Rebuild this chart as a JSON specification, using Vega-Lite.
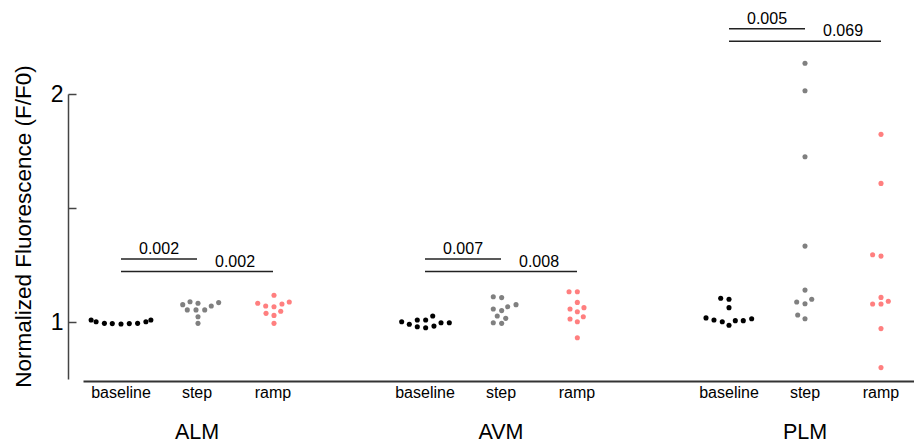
{
  "$schema": "https://vega.github.io/schema/vega-lite/v6.json",
  "autosize": "none",
  "width": 831,
  "height": 285,
  "padding": {"left": 83, "top": 94, "right": 0, "bottom": 68},
  "config": {"view": {"stroke": null}, "font": "Liberation Sans"},
  "datasets": {
    "points": [
      {"grp": "ALM", "cond": "baseline", "sw": -3.6, "f": 1.009},
      {"grp": "ALM", "cond": "baseline", "sw": -3.0, "f": 1.001},
      {"grp": "ALM", "cond": "baseline", "sw": -2.0, "f": 0.994},
      {"grp": "ALM", "cond": "baseline", "sw": -1.05, "f": 0.993},
      {"grp": "ALM", "cond": "baseline", "sw": 0.0, "f": 0.991},
      {"grp": "ALM", "cond": "baseline", "sw": 1.0, "f": 0.993},
      {"grp": "ALM", "cond": "baseline", "sw": 2.0, "f": 0.994},
      {"grp": "ALM", "cond": "baseline", "sw": 3.0, "f": 1.001},
      {"grp": "ALM", "cond": "baseline", "sw": 3.6, "f": 1.009},
      {"grp": "ALM", "cond": "step", "sw": -1.72, "f": 1.076},
      {"grp": "ALM", "cond": "step", "sw": -0.84, "f": 1.089},
      {"grp": "ALM", "cond": "step", "sw": 0.12, "f": 1.082},
      {"grp": "ALM", "cond": "step", "sw": -1.17, "f": 1.053},
      {"grp": "ALM", "cond": "step", "sw": -0.12, "f": 1.053},
      {"grp": "ALM", "cond": "step", "sw": 0.93, "f": 1.053},
      {"grp": "ALM", "cond": "step", "sw": 1.72, "f": 1.070},
      {"grp": "ALM", "cond": "step", "sw": 2.61, "f": 1.085},
      {"grp": "ALM", "cond": "step", "sw": 0.12, "f": 1.023},
      {"grp": "ALM", "cond": "step", "sw": 0.12, "f": 0.994},
      {"grp": "ALM", "cond": "ramp", "sw": 0.12, "f": 1.117},
      {"grp": "ALM", "cond": "ramp", "sw": -1.84, "f": 1.082},
      {"grp": "ALM", "cond": "ramp", "sw": -0.88, "f": 1.070},
      {"grp": "ALM", "cond": "ramp", "sw": 0.12, "f": 1.067},
      {"grp": "ALM", "cond": "ramp", "sw": 1.08, "f": 1.079},
      {"grp": "ALM", "cond": "ramp", "sw": 1.96, "f": 1.088},
      {"grp": "ALM", "cond": "ramp", "sw": -0.84, "f": 1.038},
      {"grp": "ALM", "cond": "ramp", "sw": 0.12, "f": 1.029},
      {"grp": "ALM", "cond": "ramp", "sw": 0.93, "f": 1.047},
      {"grp": "ALM", "cond": "ramp", "sw": 0.12, "f": 0.994},
      {"grp": "AVM", "cond": "baseline", "sw": -2.81, "f": 1.001},
      {"grp": "AVM", "cond": "baseline", "sw": -1.89, "f": 0.990},
      {"grp": "AVM", "cond": "baseline", "sw": -0.93, "f": 1.009},
      {"grp": "AVM", "cond": "baseline", "sw": -0.93, "f": 0.979},
      {"grp": "AVM", "cond": "baseline", "sw": 0.08, "f": 1.009},
      {"grp": "AVM", "cond": "baseline", "sw": 0.08, "f": 0.975},
      {"grp": "AVM", "cond": "baseline", "sw": 0.93, "f": 1.026},
      {"grp": "AVM", "cond": "baseline", "sw": 1.08, "f": 0.982},
      {"grp": "AVM", "cond": "baseline", "sw": 1.93, "f": 0.997},
      {"grp": "AVM", "cond": "baseline", "sw": 2.93, "f": 0.997},
      {"grp": "AVM", "cond": "step", "sw": -0.93, "f": 1.111},
      {"grp": "AVM", "cond": "step", "sw": 0.08, "f": 1.107},
      {"grp": "AVM", "cond": "step", "sw": -0.93, "f": 1.057},
      {"grp": "AVM", "cond": "step", "sw": 0.08, "f": 1.050},
      {"grp": "AVM", "cond": "step", "sw": 0.81, "f": 1.067},
      {"grp": "AVM", "cond": "step", "sw": 1.81, "f": 1.076},
      {"grp": "AVM", "cond": "step", "sw": -0.45, "f": 1.026},
      {"grp": "AVM", "cond": "step", "sw": 0.57, "f": 1.016},
      {"grp": "AVM", "cond": "step", "sw": -0.93, "f": 0.997},
      {"grp": "AVM", "cond": "step", "sw": 0.08, "f": 0.994},
      {"grp": "AVM", "cond": "ramp", "sw": -0.96, "f": 1.133},
      {"grp": "AVM", "cond": "ramp", "sw": 0.04, "f": 1.133},
      {"grp": "AVM", "cond": "ramp", "sw": 0.04, "f": 1.086},
      {"grp": "AVM", "cond": "ramp", "sw": -0.84, "f": 1.057},
      {"grp": "AVM", "cond": "ramp", "sw": 0.04, "f": 1.045},
      {"grp": "AVM", "cond": "ramp", "sw": 0.84, "f": 1.063},
      {"grp": "AVM", "cond": "ramp", "sw": -0.84, "f": 1.013},
      {"grp": "AVM", "cond": "ramp", "sw": 0.04, "f": 1.001},
      {"grp": "AVM", "cond": "ramp", "sw": 0.76, "f": 1.023},
      {"grp": "AVM", "cond": "ramp", "sw": 0.04, "f": 0.931},
      {"grp": "PLM", "cond": "baseline", "sw": -1.0, "f": 1.104},
      {"grp": "PLM", "cond": "baseline", "sw": 0.0, "f": 1.100},
      {"grp": "PLM", "cond": "baseline", "sw": 0.0, "f": 1.063},
      {"grp": "PLM", "cond": "baseline", "sw": -2.77, "f": 1.018},
      {"grp": "PLM", "cond": "baseline", "sw": -1.81, "f": 1.009},
      {"grp": "PLM", "cond": "baseline", "sw": -0.81, "f": 1.001},
      {"grp": "PLM", "cond": "baseline", "sw": 0.0, "f": 0.986},
      {"grp": "PLM", "cond": "baseline", "sw": 0.76, "f": 1.006},
      {"grp": "PLM", "cond": "baseline", "sw": 1.72, "f": 1.006},
      {"grp": "PLM", "cond": "baseline", "sw": 2.73, "f": 1.014},
      {"grp": "PLM", "cond": "step", "sw": 0.0, "f": 2.135},
      {"grp": "PLM", "cond": "step", "sw": 0.0, "f": 2.014},
      {"grp": "PLM", "cond": "step", "sw": 0.0, "f": 1.725},
      {"grp": "PLM", "cond": "step", "sw": 0.0, "f": 1.333},
      {"grp": "PLM", "cond": "step", "sw": 0.0, "f": 1.140},
      {"grp": "PLM", "cond": "step", "sw": -1.0, "f": 1.088},
      {"grp": "PLM", "cond": "step", "sw": 0.0, "f": 1.080},
      {"grp": "PLM", "cond": "step", "sw": 0.81, "f": 1.100},
      {"grp": "PLM", "cond": "step", "sw": -0.88, "f": 1.031},
      {"grp": "PLM", "cond": "step", "sw": 0.0, "f": 1.014},
      {"grp": "PLM", "cond": "ramp", "sw": 0.0, "f": 1.823},
      {"grp": "PLM", "cond": "ramp", "sw": 0.0, "f": 1.608},
      {"grp": "PLM", "cond": "ramp", "sw": -1.01, "f": 1.295},
      {"grp": "PLM", "cond": "ramp", "sw": 0.0, "f": 1.289},
      {"grp": "PLM", "cond": "ramp", "sw": 0.0, "f": 1.108},
      {"grp": "PLM", "cond": "ramp", "sw": -1.01, "f": 1.079},
      {"grp": "PLM", "cond": "ramp", "sw": 0.0, "f": 1.079},
      {"grp": "PLM", "cond": "ramp", "sw": 0.88, "f": 1.091},
      {"grp": "PLM", "cond": "ramp", "sw": 0.0, "f": 0.971},
      {"grp": "PLM", "cond": "ramp", "sw": 0.0, "f": 0.800}
    ],
    "brackets": [
      {"from": "ALM|baseline", "to": "ALM|step", "y": 1.276, "p": "0.002"},
      {"from": "ALM|baseline", "to": "ALM|ramp", "y": 1.221, "p": "0.002"},
      {"from": "AVM|baseline", "to": "AVM|step", "y": 1.276, "p": "0.007"},
      {"from": "AVM|baseline", "to": "AVM|ramp", "y": 1.221, "p": "0.008"},
      {"from": "PLM|baseline", "to": "PLM|step", "y": 2.286, "p": "0.005"},
      {"from": "PLM|baseline", "to": "PLM|ramp", "y": 2.231, "p": "0.069"}
    ]
  },
  "layer": [
    {
      "data": {"name": "points"},
      "transform": [{"calculate": "datum.grp + '|' + datum.cond", "as": "key"}],
      "mark": {"type": "circle", "size": 26, "opacity": 1},
      "encoding": {
        "x": {
          "field": "key", "type": "nominal",
          "scale": {"type": "band", "domain": ["ALM|baseline", "ALM|step", "ALM|ramp", "g1", "AVM|baseline", "AVM|step", "AVM|ramp", "g2", "PLM|baseline", "PLM|step", "PLM|ramp"], "range": [0, 836], "paddingInner": 0, "paddingOuter": 0},
          "axis": {"orient": "bottom", "offset": 2, "domainWidth": 2, "domainColor": "#333333", "ticks": false, "labelFontSize": 16, "labelPadding": 3, "labelAngle": 0, "labelColor": "#000000", "labelOverlap": false, "labelBound": false, "title": null, "grid": false, "labelExpr": "indexof(datum.value, '|') > 0 ? split(datum.value, '|')[1] : ''"}
        },
        "xOffset": {"field": "sw", "type": "quantitative", "scale": {"domain": [-4, 4], "range": [4.8, 71.2]}},
        "y": {
          "field": "f", "type": "quantitative",
          "scale": {"domain": [0.75, 2], "nice": false, "zero": false},
          "axis": {"values": [1, 1.5, 2], "format": ".1~f", "labelExpr": "datum.value == 1.5 ? '' : datum.label", "offset": 15, "tickSize": -8, "domainColor": "#444444", "tickColor": "#444444", "domainWidth": 1.5, "tickWidth": 1.5, "labelFontSize": 23, "labelColor": "#000000", "labelPadding": 13, "grid": false, "title": "Normalized Fluorescence (F/F0)", "titleFontSize": 22.5, "titleFontWeight": "normal", "titleColor": "#000000", "titlePadding": 15, "titleY": 132}
        },
        "color": {"field": "cond", "type": "nominal", "scale": {"domain": ["baseline", "step", "ramp"], "range": ["#000000", "#808080", "#ff7f7f"]}, "legend": null}
      }
    },
    {
      "data": {"name": "brackets"},
      "mark": {"type": "rule", "strokeWidth": 1.5, "color": "#222222"},
      "encoding": {
        "x": {
          "field": "from", "type": "nominal",
          "scale": {"type": "band", "domain": ["ALM|baseline", "ALM|step", "ALM|ramp", "g1", "AVM|baseline", "AVM|step", "AVM|ramp", "g2", "PLM|baseline", "PLM|step", "PLM|ramp"], "range": [0, 836], "paddingInner": 0, "paddingOuter": 0},
          "axis": {"orient": "bottom", "domain": false, "ticks": false, "labelFontSize": 21.5, "labelPadding": 42, "labelAngle": 0, "labelColor": "#000000", "labelOverlap": false, "labelBound": false, "title": null, "grid": false, "labelExpr": "indexof(datum.value, '|step') > 0 ? split(datum.value, '|')[0] : ''"}
        },
        "x2": {"field": "to"},
        "y": {"field": "y", "type": "quantitative", "scale": {"domain": [0.75, 2], "nice": false, "zero": false}, "axis": null}
      }
    },
    {
      "data": {"name": "brackets"},
      "mark": {"type": "text", "fontSize": 16, "dx": -38, "dy": -5, "baseline": "alphabetic", "align": "center", "color": "#000000"},
      "encoding": {
        "x": {
          "field": "to", "type": "nominal",
          "scale": {"type": "band", "domain": ["ALM|baseline", "ALM|step", "ALM|ramp", "g1", "AVM|baseline", "AVM|step", "AVM|ramp", "g2", "PLM|baseline", "PLM|step", "PLM|ramp"], "range": [0, 836], "paddingInner": 0, "paddingOuter": 0},
          "axis": null
        },
        "y": {"field": "y", "type": "quantitative", "scale": {"domain": [0.75, 2], "nice": false, "zero": false}, "axis": null},
        "text": {"field": "p"}
      }
    }
  ],
  "resolve": {"axis": {"x": "independent", "y": "independent"}}
}
